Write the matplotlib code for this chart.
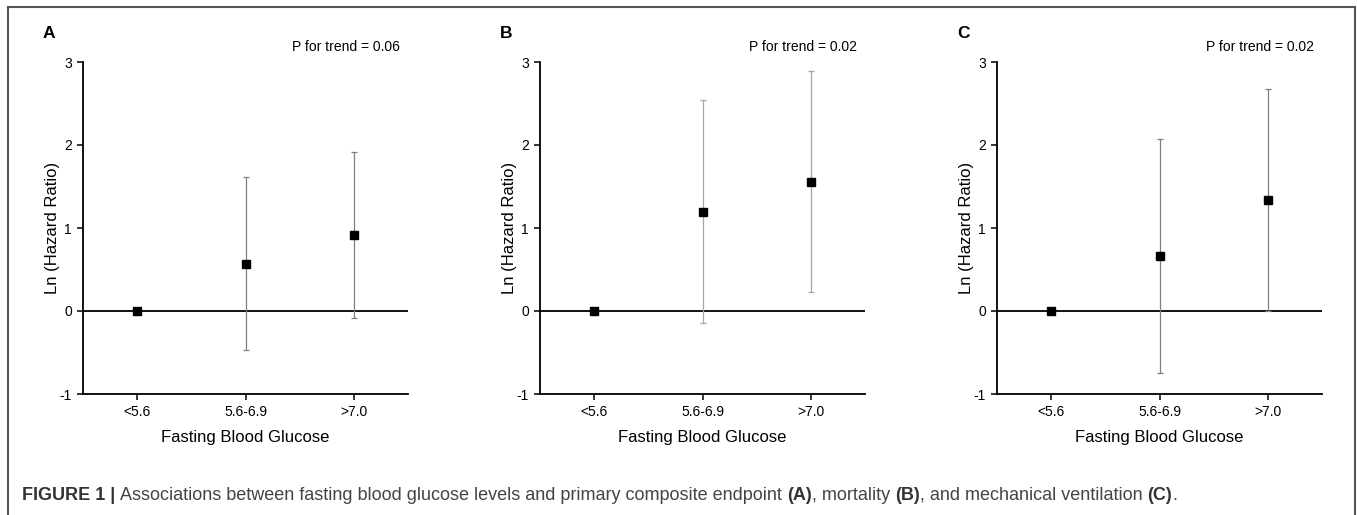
import matplotlib
matplotlib.use("Agg")
import matplotlib.pyplot as plt
from matplotlib.lines import Line2D

plt.rcParams['font.family'] = ['Liberation Sans', 'DejaVu Sans']

categories = ["<5.6", "5.6-6.9", ">7.0"]
panel_labels = ["A", "B", "C"]
p_texts = ["P for trend = 0.06", "P for trend = 0.02", "P for trend = 0.02"]

est_A = [0.0, 0.57, 0.92]
low_A = [0.0, -0.47, -0.08]
high_A = [0.0, 1.61, 1.92]

est_B = [0.0, 1.19, 1.56]
low_B = [0.0, -0.15, 0.23]
high_B = [0.0, 2.54, 2.89]

est_C = [0.0, 0.66, 1.34]
low_C = [0.0, -0.75, 0.0]
high_C = [0.0, 2.07, 2.68]

yticks = [-1, 0, 1, 2, 3]
xlabel = "Fasting Blood Glucose"
ylabel = "Ln (Hazard Ratio)"

W, H = 1357, 515
fig = plt.figure(figsize=(W / 100, H / 100), dpi=100)

lefts = [83, 540, 997]
ax_w = 325
top_px, bot_px = 62, 394
err_cols = ['#7f7f7f', '#a6a6a6', '#7f7f7f']

panels = [(est_A, low_A, high_A), (est_B, low_B, high_B), (est_C, low_C, high_C)]

for i, (est, low, high) in enumerate(panels):
    ax = fig.add_axes([lefts[i] / W, 1 - bot_px / H, ax_w / W, (bot_px - top_px) / H])
    x = list(range(len(categories)))
    yerr = [[e - l for e, l in zip(est, low)], [h - e for e, h in zip(est, high)]]
    ax.axhline(0, color='black', lw=1.3, zorder=1)
    ax.errorbar(x, est, yerr=yerr, fmt='none', ecolor=err_cols[i], elinewidth=0.9,
                capsize=2.5, capthick=0.9, zorder=2)
    ax.plot(x, est, 's', color='black', ms=6, zorder=3)
    ax.set_xlim(-0.5, 2.5)
    ax.set_ylim(-1, 3)
    ax.set_xticks(x)
    ax.set_xticklabels(categories)
    ax.set_yticks(yticks)
    ax.set_yticklabels([str(t) for t in yticks])
    ax.tick_params(axis='both', direction='out', length=4, width=1.1, labelsize=10,
                   colors='black', pad=4)
    for s in ['top', 'right']:
        ax.spines[s].set_visible(False)
    for s in ['left', 'bottom']:
        ax.spines[s].set_linewidth(1.3)
    ax.set_xlabel(xlabel, fontsize=12, labelpad=8)
    ax.set_ylabel(ylabel, fontsize=12, labelpad=0)
    ax.text(0.81, 1.025, p_texts[i], transform=ax.transAxes, ha='center', va='bottom',
            fontsize=10)
    fig.text((lefts[i] - 40) / W, 1 - 34 / H, panel_labels[i], fontsize=12.5,
             fontweight='bold', ha='left', va='center')

# outer frame (open at bottom)
frame_col = '#555555'
fig.add_artist(Line2D([8 / W, 8 / W], [0, 1 - 7 / H], transform=fig.transFigure,
                      color=frame_col, lw=1.5))
fig.add_artist(Line2D([8 / W, 1355 / W], [1 - 7 / H, 1 - 7 / H], transform=fig.transFigure,
                      color=frame_col, lw=1.5))
fig.add_artist(Line2D([1355 / W, 1355 / W], [0, 1 - 7 / H], transform=fig.transFigure,
                      color=frame_col, lw=1.5))

# caption
cap_y = 1 - 495 / H
cap_fs = 13
t1 = fig.text(22 / W, cap_y, "FIGURE 1 | ", fontsize=cap_fs, fontweight='bold',
              color='#333333', va='center', ha='left')
fig.canvas.draw()
r = fig.canvas.get_renderer()
bb = t1.get_window_extent(renderer=r)
xpos = bb.x1
parts = [("Associations between fasting blood glucose levels and primary composite endpoint ", 'normal'),
         ("(A)", 'bold'), (", mortality ", 'normal'), ("(B)", 'bold'),
         (", and mechanical ventilation ", 'normal'), ("(C)", 'bold'), (".", 'normal')]
for txt, wgt in parts:
    t = fig.text(xpos / W, cap_y, txt, fontsize=cap_fs, fontweight=wgt,
                 color='#444444' if wgt == 'normal' else '#333333', va='center', ha='left')
    xpos = t.get_window_extent(renderer=r).x1

fig.savefig("out.png", dpi=100)
